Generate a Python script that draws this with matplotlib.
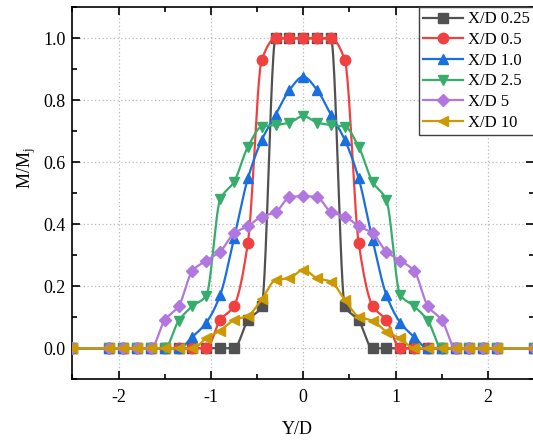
import numpy as np
import matplotlib
matplotlib.use("Agg")
import matplotlib.pyplot as plt
from matplotlib.ticker import MultipleLocator

plt.rcParams['font.family'] = ['Liberation Serif', 'DejaVu Serif']
plt.rcParams['mathtext.fontset'] = 'stix'

# ---- data ----
y_d = [-2.5, -2.1, -1.95, -1.8, -1.65, -1.5, -1.35, -1.2, -1.05, -0.9, -0.75, -0.6,
       -0.45, -0.3, -0.15, 0.0, 0.15, 0.3, 0.45, 0.6, 0.75, 0.9, 1.05, 1.2, 1.35,
       1.5, 1.65, 1.8, 1.95, 2.1, 2.5]

xd_025 = [0, 0, 0, 0, 0, 0, 0, 0, 0, 0, 0, 0.09, 0.137, 1.0, 1.0, 1.0, 1.0, 1.0,
          0.137, 0.09, 0, 0, 0, 0, 0, 0, 0, 0, 0, 0, 0]
xd_05 = [0, 0, 0, 0, 0, 0, 0, 0, 0, 0.091, 0.137, 0.34, 0.93, 1.0, 1.0, 1.0, 1.0,
         1.0, 0.93, 0.34, 0.137, 0.091, 0, 0, 0, 0, 0, 0, 0, 0, 0]
xd_10 = [0, 0, 0, 0, 0, 0, 0, 0.037, 0.083, 0.172, 0.355, 0.548, 0.672, 0.753,
         0.833, 0.876, 0.833, 0.753, 0.672, 0.548, 0.35, 0.172, 0.083, 0.037, 0,
         0, 0, 0, 0, 0, 0]
xd_25 = [0, 0, 0, 0, 0, 0, 0.089, 0.136, 0.17, 0.48, 0.537, 0.65, 0.715, 0.72,
         0.728, 0.749, 0.728, 0.72, 0.715, 0.65, 0.537, 0.478, 0.172, 0.136, 0.089,
         0, 0, 0, 0, 0, 0]
xd_5 = [0, 0, 0, 0, 0, 0.091, 0.136, 0.25, 0.283, 0.312, 0.371, 0.394, 0.425,
        0.439, 0.487, 0.491, 0.487, 0.439, 0.425, 0.394, 0.371, 0.312, 0.283, 0.25,
        0.136, 0.091, 0, 0, 0, 0, 0]
xd_10b = [0, 0, 0, 0, 0, 0, 0, 0, 0.032, 0.057, 0.091, 0.105, 0.158, 0.22, 0.226,
          0.253, 0.226, 0.215, 0.156, 0.102, 0.089, 0.054, 0.032, 0, 0, 0, 0, 0, 0,
          0, 0]

series_labels = ['X/D 0.25', 'X/D 0.5', 'X/D 1.0', 'X/D 2.5', 'X/D 5', 'X/D 10']
series_values = [xd_025, xd_05, xd_10, xd_25, xd_5, xd_10b]
colors = ['#515151', '#F14040', '#1A6FDF', '#37AD6B', '#B177DE', '#CC9900']
markers = ['s', 'o', '^', 'v', 'D', '<']
msizes = [6.5, 7.5, 7.5, 7.5, 6.5, 7.5]

xticks = [-2, -1, 0, 1, 2]
yticks = [0.0, 0.2, 0.4, 0.6, 0.8, 1.0]


def pchip(x, y, n=25):
    x = np.asarray(x, float)
    y = np.asarray(y, float)
    h = np.diff(x)
    delta = np.diff(y) / h
    d = np.zeros_like(y)
    for k in range(1, len(x) - 1):
        if delta[k - 1] * delta[k] > 0:
            w1 = 2 * h[k] + h[k - 1]
            w2 = h[k] + 2 * h[k - 1]
            d[k] = (w1 + w2) / (w1 / delta[k - 1] + w2 / delta[k])
    d[0] = delta[0]
    d[-1] = delta[-1]
    xs, ys = [], []
    for k in range(len(x) - 1):
        t = np.linspace(0, 1, n, endpoint=False)
        h00 = 2 * t**3 - 3 * t**2 + 1
        h10 = t**3 - 2 * t**2 + t
        h01 = -2 * t**3 + 3 * t**2
        h11 = t**3 - t**2
        xs.append(x[k] + t * h[k])
        ys.append(h00 * y[k] + h10 * h[k] * d[k] + h01 * y[k + 1] + h11 * h[k] * d[k + 1])
    xs.append([x[-1]])
    ys.append([y[-1]])
    return np.concatenate(xs), np.concatenate(ys)


fig = plt.figure(figsize=(5.33, 4.41), dpi=100)
ax = fig.add_axes([0.136, 0.140, 0.866, 0.8435])

for i, (lab, vals, c, m, ms) in enumerate(zip(series_labels, series_values, colors, markers, msizes)):
    sx, sy = pchip(y_d, vals)
    z = 3 + i * 0.1
    ax.plot(sx, sy, color=c, lw=1.6, zorder=z)
    ax.plot(y_d, vals, linestyle='none', marker=m, ms=ms, color=c, mec=c, zorder=z + 0.05)
    ax.plot([], [], color=c, lw=1.6, marker=m, ms=ms, mec=c, label=lab)

ax.set_xlim(-2.5, 2.5)
ax.set_ylim(-0.1, 1.1)
ax.set_xticks(xticks)
ax.set_yticks(yticks)
ax.set_xticklabels([str(v) for v in xticks])
ax.set_yticklabels([f"{v:.1f}" for v in yticks])
ax.xaxis.set_minor_locator(MultipleLocator(0.5))
ax.yaxis.set_minor_locator(MultipleLocator(0.1))
ax.tick_params(which='both', direction='in', top=True, right=True, labelsize=13, width=1.2)
ax.tick_params(which='major', length=6)
ax.tick_params(which='minor', length=3.5)
ax.tick_params(axis='x', pad=7)
ax.tick_params(axis='y', pad=5)
for s in ax.spines.values():
    s.set_linewidth(1.2)

ax.grid(True, which='major', linestyle=(0, (1, 2)), color='#b8b8b8', lw=0.9)
ax.set_axisbelow(True)

ax.set_xlabel('Y/D', fontsize=13)
ax.set_ylabel(r'M/M$_\mathregular{j}$', fontsize=13)
ax.xaxis.set_label_coords(0.487, -0.112)
ax.yaxis.set_label_coords(-0.074, 0.568)

leg = ax.legend(loc='upper right', borderaxespad=0, fontsize=12, handlelength=2.4,
                handletextpad=0.3, labelspacing=0.28, borderpad=0.25,
                fancybox=False, framealpha=1, edgecolor='#404040')
leg.set_zorder(10)
leg.get_frame().set_linewidth(1.0)

fig.savefig('out.png', dpi=100)
